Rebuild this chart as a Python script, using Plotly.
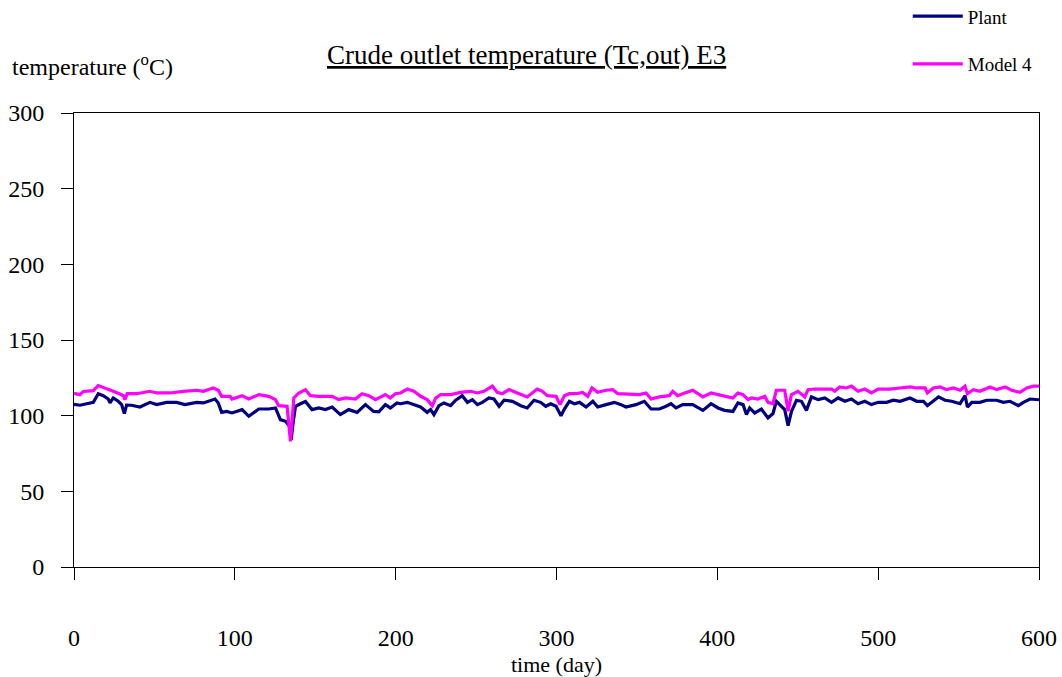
import plotly.graph_objects as go

plant_day = [0, 3.7, 7.9, 12, 15.1, 18.2, 21.3, 22.4, 24.4, 27.5, 29.6, 31.3, 32.7, 35.8, 41, 47.2, 51.4, 57.6, 63.8, 69,
             76.3, 80.4, 87.7, 89.7, 91.8, 94.9, 98.2, 104.5, 108.7, 114.9, 121.1, 125.3, 128.3, 131.5, 134, 135, 136.2,
             137.7, 140.8, 143.9, 148, 152.2, 156.3, 160.5, 165.6, 170.8, 176, 181.2, 186.3, 189.5, 193.6, 196.7, 200.8,
             203.1, 207.2, 211.4, 215.5, 219.6, 221.7, 223.8, 226.9, 230, 234.2, 237.3, 241.4, 244.6, 247.7, 250.8, 253.9,
             258, 261.1, 264.3, 267.4, 272.6, 277.8, 281.8, 286, 290.1, 293.3, 296.4, 299.7, 302.8, 304.9, 308, 311.1,
             314.3, 318.4, 322.6, 325.6, 330.8, 336, 340.1, 343.2, 349.4, 354.6, 358.8, 364, 368.1, 371.2, 374.3, 378.5,
             384.7, 391, 396.1, 400.4, 404.5, 409.7, 412.8, 416, 418.1, 420.1, 423.2, 427.4, 431.5, 434.6, 436.7, 439.8,
             441.9, 444, 446.1, 449.2, 452.3, 455.4, 458.5, 462.7, 466.8, 471, 475.1, 479.3, 483.4, 487.5, 491.7, 495.8,
             500, 505.2, 509.4, 513.6, 519.8, 524, 528.1, 530.6, 533.3, 537.5, 541.6, 545.7, 550.9, 554, 555.5, 558.2,
             563.3, 567.5, 573.7, 577.8, 582, 587.2, 590.3, 594.4, 600]
plant_temp = [107.5, 106.9, 107.9, 108.8, 114.5, 113.2, 111, 108.4, 111.7, 109.5, 107.3, 101.4, 107, 106.9, 105.7, 108.8,
              107.3, 108.8, 108.8, 107.3, 108.8, 108.4, 111, 108.4, 102.2, 102.8, 101.8, 104.0, 99.6, 104.4, 104.4, 105.1,
              97.4, 96.3, 93, 84, 95, 106.2, 107.9, 109.4, 104, 105.1, 104, 105.7, 100.7, 104, 102.2, 107.3, 102.8, 102.5,
              107.3, 105.1, 108.4, 107.9, 108.8, 107.3, 105.7, 102.2, 104, 100.7, 106.6, 108.4, 106.6, 110.2, 113.2, 108.8,
              110.6, 107.3, 108.8, 111.7, 111, 106.2, 110.2, 109.5, 106.6, 105.1, 110.2, 108.8, 106.2, 107.9, 106.2, 100.0,
              104.4, 109.5, 107.9, 108.8, 105.7, 109.5, 105.7, 107.3, 108.8, 107.3, 105.7, 107.3, 109.5, 104.4, 104.4,
              106.2, 107.9, 105.1, 107.3, 107.3, 103.5, 107.9, 105.1, 103.5, 102.8, 108.4, 107.3, 100.7, 105.1, 101.8,
              104.4, 98.5, 101.4, 109.5, 106.6, 104, 93.4, 102.8, 110.2, 109.5, 103.5, 112.4, 110.6, 111.7, 108.8, 111.7,
              109.5, 111, 107.9, 109.5, 107.3, 108.8, 108.8, 110.2, 109.5, 111.7, 109.5, 109.5, 106.6, 108.8, 112.4, 110.2,
              109.5, 107.9, 113.2, 105.7, 108.8, 108.8, 110.2, 110.2, 108.8, 109.5, 106.6, 108.8, 111, 110.5]

model_day = [0, 3.7, 5.8, 12, 15.1, 18.2, 21.3, 24.4, 28.6, 30.7, 31.7, 33.1, 39, 47.2, 51.4, 59.7, 68, 76.3, 80.4, 86.6,
             89.7, 91.8, 97, 98.2, 104.5, 108.7, 114.9, 121.1, 125.3, 127.3, 132.5, 134.6, 136.7, 139.8, 143.9, 147,
             152.2, 160.5, 164.6, 168.8, 175, 179.1, 183.3, 187.4, 193.6, 196.7, 199.8, 203.1, 207.2, 211.4, 215.5, 219.6,
             222.8, 224.9, 228, 234.2, 240.4, 246.6, 250.8, 254.9, 260.1, 263.2, 266.3, 270.5, 275.6, 281.8, 288, 291.2,
             294.3, 299.7, 302.2, 304.9, 308, 312.1, 316.2, 319.4, 322.1, 325.6, 330.8, 335, 338.1, 345.3, 351.6, 355.7,
             358.8, 364, 370.2, 372.3, 375.4, 378.5, 384.7, 391, 396.1, 400.4, 405.6, 409.7, 412.8, 416, 419.1, 421.2,
             425.3, 429.5, 431.5, 434.6, 436.7, 441.9, 444, 446.1, 450.2, 454.4, 456.4, 460.6, 471, 473, 476.1, 480.3,
             483.4, 487.5, 491.7, 495.8, 500, 507.4, 513.6, 519.8, 524, 529.2, 530.6, 534.3, 538.5, 542.6, 546.8, 550.9,
             554, 555.5, 559.2, 563.3, 569.6, 573.7, 578.9, 583, 588.2, 592.4, 596.5, 600]
model_temp = [114.8, 113.9, 116, 116.5, 119.9, 118.8, 117.2, 116.1, 114.3, 113.2, 110.6, 114.5, 114.5, 116.1, 115, 115,
              116.1, 116.8, 116.1, 118.3, 116.8, 112.8, 112.8, 111, 113.2, 111, 113.9, 112.8, 110.6, 106.6, 106.2, 83,
              111.7, 115, 117.2, 113.2, 112.8, 112.8, 110.6, 111.7, 111, 114.5, 113.2, 110.6, 113.9, 111.7, 114.5, 115,
              117.6, 116.1, 112.8, 110.6, 106.6, 111.7, 113.9, 113.9, 115.4, 116.1, 115, 116.1, 119.5, 115.4, 114.5, 117.2,
              115, 112.4, 117.6, 116.1, 113.2, 112.8, 107.3, 113.2, 114.5, 114.5, 115.4, 112.8, 118.3, 115.4, 116.8, 117.2,
              114.5, 113.9, 113.9, 115, 111, 112.4, 113.2, 116.1, 113.2, 114.5, 116.8, 112.4, 115, 113.9, 112.4, 111.7,
              115, 113.9, 110.6, 111.7, 111, 112.8, 108.8, 107.9, 116.8, 116.8, 103, 113.9, 116.1, 112.4, 117.2, 117.6,
              117.6, 116.1, 119, 118.3, 119.5, 116.1, 117.6, 115, 117.6, 117.6, 118.3, 119, 118.3, 118.3, 115, 118.3, 119,
              117.2, 118.3, 116.8, 119.5, 114.5, 117.2, 116.1, 119, 117.2, 119, 116.8, 115.4, 118.3, 119.5, 119.5]

x_ticks = [0, 100, 200, 300, 400, 500, 600]
y_ticks = [0, 50, 100, 150, 200, 250, 300]

FONT = "Liberation Serif, Times New Roman, serif"

fig = go.Figure()
fig.add_trace(go.Scatter(x=plant_day, y=plant_temp, mode="lines", name="Plant",
                         line=dict(color="#000080", width=3.2), legendgroup="a"))
fig.add_trace(go.Scatter(x=model_day, y=model_temp, mode="lines", name="Model 4",
                         line=dict(color="#FF00FF", width=3.2), legendgroup="b"))

fig.update_layout(
    width=1062, height=677,
    margin=dict(l=74, r=23, t=113, b=110, autoexpand=False),
    paper_bgcolor="white", plot_bgcolor="white",
    font=dict(family=FONT, color="black", size=22),
    showlegend=True,
    legend=dict(x=0.864, y=1.255, xanchor="left", yanchor="top",
                font=dict(family=FONT, size=19, color="black"),
                itemwidth=50, tracegroupgap=20, bgcolor="rgba(0,0,0,0)"),
    xaxis=dict(range=[0, 600], tickvals=x_ticks, ticks="outside", ticklen=12, tickcolor="black",
               showline=True, linecolor="black", linewidth=1, mirror=True, showgrid=False,
               zeroline=False, tickfont=dict(family=FONT, size=24), ticklabelstandoff=37),
    yaxis=dict(range=[0, 300], tickvals=y_ticks, ticks="outside", ticklen=12, tickcolor="black",
               showline=True, linecolor="black", linewidth=1, mirror=True, showgrid=False,
               zeroline=False, tickfont=dict(family=FONT, size=24), ticklabelstandoff=12),
    annotations=[
        dict(text="<u>Crude outlet temperature (Tc,out) E3</u>", xref="paper", yref="paper",
             x=0.469, y=1.128, xanchor="center", yanchor="middle", showarrow=False,
             font=dict(family=FONT, size=27)),
        dict(text="temperature (<sup>o</sup>C)", xref="paper", yref="paper",
             x=-0.066, y=1.106, xanchor="left", yanchor="middle", showarrow=False,
             font=dict(family=FONT, size=24)),
        dict(text="time (day)", xref="paper", yref="paper",
             x=0.5, y=-0.214, xanchor="center", yanchor="middle", showarrow=False,
             font=dict(family=FONT, size=22)),
    ],
)

fig.write_html("out.html")
